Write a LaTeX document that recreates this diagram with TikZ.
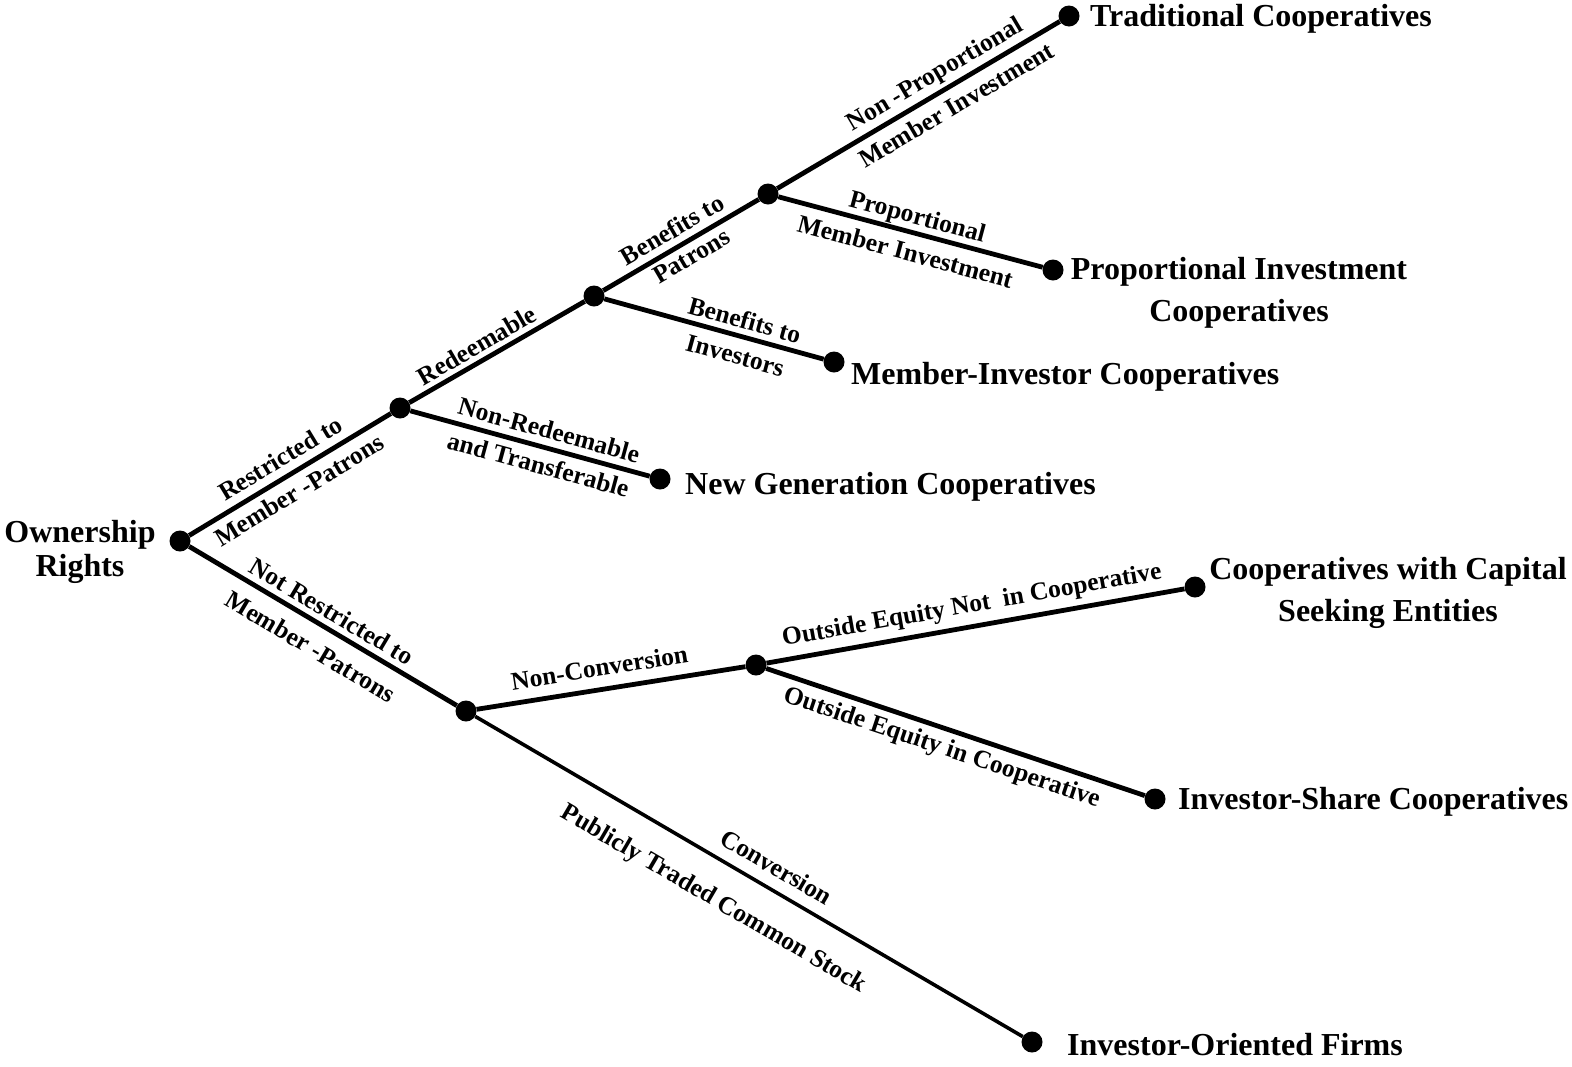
\documentclass[tikz,border=0pt]{standalone}
\usepackage{fontspec}
\setmainfont{Liberation Serif}
\begin{document}
\begin{tikzpicture}[x=1pt,y=-1pt,
  dot/.style={circle,fill=black,inner sep=0pt,minimum size=21pt},
  conn/.style={line width=4.8pt},
  thinconn/.style={line width=3.6pt},
  leaf/.style={font=\bfseries\fontsize{32}{42}\selectfont, align=center, inner sep=0pt},
  elab/.style={font=\bfseries\fontsize{25.5}{30}\selectfont, sloped, inner sep=0pt, anchor=center},
]
\useasboundingbox (0,0) rectangle (1572,1066);
% dots
\node[dot] (R) at (180,541) {};
\node[dot] (A) at (400,408) {};
\node[dot] (B) at (594,296) {};
\node[dot] (C) at (768,194) {};
\node[dot] (T) at (1069,16) {};
\node[dot] (P) at (1053,270) {};
\node[dot] (MI) at (834,362) {};
\node[dot] (NG) at (660,479) {};
\node[dot] (D) at (466,711) {};
\node[dot] (E) at (756,665) {};
\node[dot] (CS) at (1195,587) {};
\node[dot] (IS) at (1155,799) {};
\node[dot] (IOF) at (1032,1042) {};
% texts
\node[leaf, font=\bfseries\fontsize{32}{34}\selectfont, anchor=north] (tR) at (80,520) {Ownership\\Rights};
\node[leaf, anchor=base west] (tT) at (1090,26) {Traditional Cooperatives};
\node[leaf, anchor=north] (tP) at (1239,257) {Proportional Investment\\Cooperatives};
\node[leaf, anchor=base west] (tMI) at (851,384) {Member-Investor Cooperatives};
\node[leaf, anchor=base west] (tNG) at (685,494) {New Generation Cooperatives};
\node[leaf, anchor=north] (tCS) at (1388,557) {Cooperatives with Capital\\Seeking Entities};
\node[leaf, anchor=base west] (tIS) at (1178,809) {Investor-Share Cooperatives};
\node[leaf, anchor=base west] (tIOF) at (1067,1055) {Investor-Oriented Firms};
% connectors
\draw[conn] (R) -- node[elab, pos=0.5, yshift=19pt] {Restricted to} node[elab, pos=0.5, yshift=-18pt] {Member -Patrons} (A);
\draw[conn] (A) -- node[elab, pos=0.43, yshift=16pt] {Redeemable} (B);
\draw[conn] (B) -- node[elab, pos=0.5, yshift=18pt] {Benefits to} node[elab, pos=0.52, yshift=-15pt] {Patrons} (C);
\draw[conn] (C) -- node[elab, pos=0.59, yshift=17pt] {Non -Proportional} node[elab, pos=0.6, yshift=-19pt] {Member Investment} (T);
\draw[conn] (C) -- node[elab, pos=0.51, yshift=15pt] {Proportional} node[elab, pos=0.5, yshift=-20pt] {Member Investment} (P);
\draw[conn] (B) -- node[elab, pos=0.62, yshift=17pt] {Benefits to} node[elab, pos=0.62, yshift=-20pt] {Investors} (MI);
\draw[conn] (A) -- node[elab, pos=0.56, yshift=18pt] {Non-Redeemable} node[elab, pos=0.555, yshift=-18pt] {and Transferable} (NG);
\draw[conn] (R) -- node[elab, pos=0.5, yshift=17pt] {Not Restricted to} node[elab, pos=0.5, yshift=-24pt] {Member -Patrons} (D);
\draw[conn] (D) -- node[elab, pos=0.47, yshift=22pt] {Non-Conversion} (E);
\draw[conn] (E) -- node[elab, pos=0.5, yshift=20pt] {Outside Equity Not~~in Cooperative} (CS);
\draw[conn] (E) -- node[elab, pos=0.48, yshift=-20pt] {Outside Equity in Cooperative} (IS);
\draw[thinconn] (D) -- node[elab, pos=0.53, yshift=22pt] {Conversion} node[elab, pos=0.47, yshift=-38pt] {Publicly Traded Common Stock} (IOF);
\end{tikzpicture}
\end{document}
